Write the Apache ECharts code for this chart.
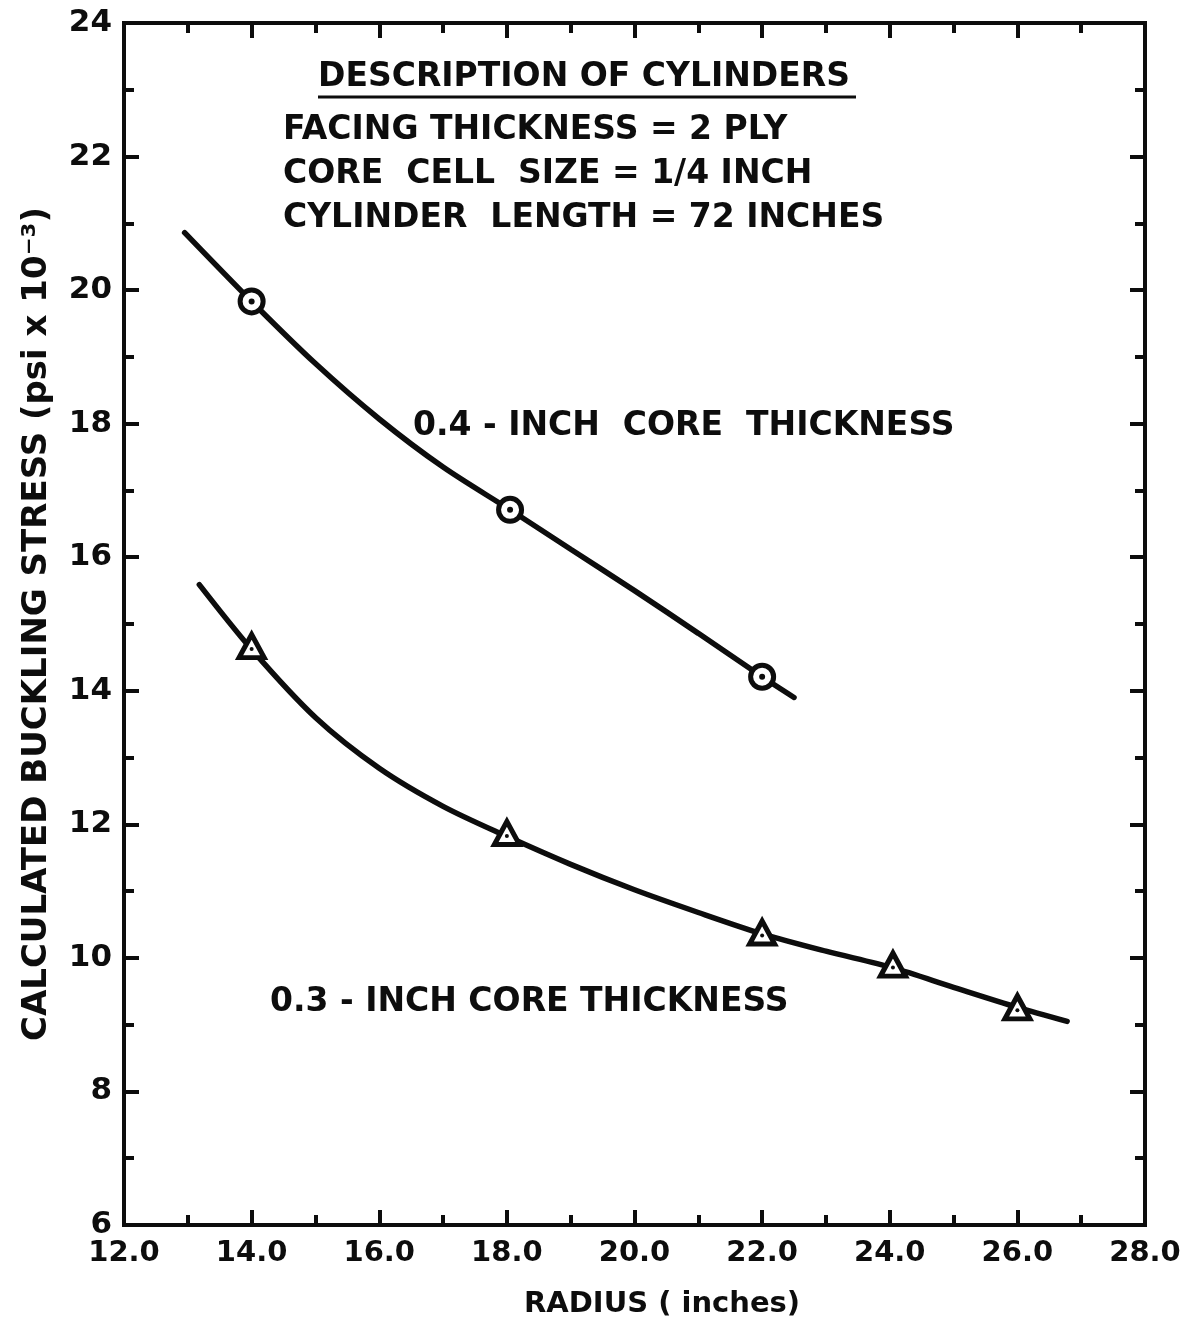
<!DOCTYPE html>
<html>
<head>
<meta charset="utf-8">
<title>Calculated buckling stress vs radius</title>
<script src="https://cdn.jsdelivr.net/npm/echarts@6/dist/echarts.min.js"></script>
<style>
  html, body { margin: 0; padding: 0; background: #fff; }
  #chart { width: 1191px; height: 1322px; }
</style>
</head>
<body>
<div id="chart"></div>
<script>
// Tick labels
const radiusTicks = ['12.0', '14.0', '16.0', '18.0', '20.0', '22.0', '24.0', '26.0', '28.0'];
const stressTicks = ['6', '8', '10', '12', '14', '16', '18', '20', '22', '24'];

// 0.4-inch core: calculated points (radius, stress) and faired curve
const core04Points = [[14.0, 19.83], [18.05, 16.71], [22.0, 14.21]];
const core04Curve = [
  [12.95, 20.86], [14.0, 19.83], [15.0, 18.9], [16.0, 18.07], [17.0, 17.35],
  [18.05, 16.71], [19.0, 16.12], [20.0, 15.5], [21.0, 14.86], [22.0, 14.21], [22.5, 13.9]
];

// 0.3-inch core: calculated points and faired curve
const core03Points = [[14.0, 14.67], [18.0, 11.87], [22.0, 10.38], [24.05, 9.9], [26.0, 9.26]];
const core03Curve = [
  [13.18, 15.59], [14.0, 14.62], [15.0, 13.6], [16.0, 12.84], [17.0, 12.27],
  [18.0, 11.82], [19.0, 11.4], [20.0, 11.02], [21.0, 10.68], [22.0, 10.36],
  [23.0, 10.1], [24.05, 9.85], [25.0, 9.56], [26.0, 9.26], [26.78, 9.05]
];

const descriptionLines = [
  'FACING THICKNESS = 2 PLY',
  'CORE  CELL  SIZE = 1/4 INCH',
  'CYLINDER  LENGTH = 72 INCHES'
];

const FONT = '"DejaVu Sans", Arial, sans-serif';
const INK = '#0d0d0d';

function makeX(position, labels) {
  return {
    type: 'value', position: position, min: 12, max: 28, interval: 2,
    axisLine: { show: false },
    axisTick: { show: true, inside: true, length: 15, lineStyle: { color: INK, width: 4 } },
    minorTick: { show: true, splitNumber: 2, length: 10, lineStyle: { color: INK, width: 4 } },
    splitLine: { show: false },
    axisLabel: labels ? {
      show: true, margin: 14, color: INK, fontFamily: FONT, fontWeight: 'bold', fontSize: 29,
      formatter: v => radiusTicks[Math.round((v - 12) / 2)]
    } : { show: false }
  };
}
function makeY(position, labels) {
  return {
    type: 'value', position: position, min: 6, max: 24, interval: 2,
    axisLine: { show: false },
    axisTick: { show: true, inside: true, length: 15, lineStyle: { color: INK, width: 4 } },
    minorTick: { show: true, splitNumber: 2, length: 10, lineStyle: { color: INK, width: 4 } },
    splitLine: { show: false },
    axisLabel: labels ? {
      show: true, margin: 12, color: INK, fontFamily: FONT, fontWeight: 'bold', fontSize: 31,
      formatter: v => stressTicks[Math.round((v - 6) / 2)]
    } : { show: false },
    name: labels ? 'CALCULATED BUCKLING STRESS (psi x 10\u207B\u00B3)' : '',
    nameLocation: 'middle', nameGap: 70, nameRotate: 90,
    nameTextStyle: { color: INK, fontFamily: FONT, fontWeight: 'bold', fontSize: 34 }
  };
}

const chart = echarts.init(document.getElementById('chart'), null, { renderer: 'canvas' });

const curveStyle = { color: INK, width: 5.5, cap: 'round' };

const option = {
  animation: false,
  backgroundColor: '#fff',
  grid: { left: 124, right: 46, top: 23, bottom: 97, show: true, borderColor: INK, borderWidth: 4, backgroundColor: 'transparent' },
  xAxis: [makeX('bottom', true), makeX('top', false)],
  yAxis: [makeY('left', true), makeY('right', false)],
  series: [
    { type: 'line', data: core04Curve, smooth: 0.3, symbol: 'none', z: 2,
      lineStyle: curveStyle },
    { type: 'line', data: core03Curve, smooth: 0.3, symbol: 'none', z: 2,
      lineStyle: curveStyle },
    { type: 'scatter', data: core04Points, symbol: 'circle', symbolSize: 23, z: 3,
      itemStyle: { color: '#fff', borderColor: INK, borderWidth: 5, opacity: 1 } },
    { type: 'scatter', data: core04Points, symbol: 'circle', symbolSize: 6, z: 4,
      itemStyle: { color: INK, opacity: 1 } },
    { type: 'scatter', data: core03Points, symbol: 'triangle', symbolSize: [25, 23], z: 3,
      itemStyle: { color: '#fff', borderColor: INK, borderWidth: 5, opacity: 1 } },
    { type: 'scatter', data: core03Points, symbol: 'circle', symbolSize: 4, symbolOffset: [0, 3], z: 4,
      itemStyle: { color: INK, opacity: 1 } }
  ],
  graphic: [
    { type: 'text', left: 318, top: 61, z: 10,
      style: { text: 'DESCRIPTION OF CYLINDERS', fill: INK, font: 'bold 33px ' + FONT } },
    { type: 'line', z: 10, shape: { x1: 318, y1: 97, x2: 856, y2: 97 },
      style: { stroke: INK, lineWidth: 3 } },
    { type: 'text', left: 283, top: 114, z: 10,
      style: { text: descriptionLines[0], fill: INK, font: 'bold 33px ' + FONT } },
    { type: 'text', left: 283, top: 158, z: 10,
      style: { text: descriptionLines[1], fill: INK, font: 'bold 33px ' + FONT } },
    { type: 'text', left: 283, top: 202, z: 10,
      style: { text: descriptionLines[2], fill: INK, font: 'bold 33px ' + FONT } },
    { type: 'text', left: 413, top: 410, z: 10,
      style: { text: '0.4 - INCH  CORE  THICKNESS', fill: INK, font: 'bold 33px ' + FONT } },
    { type: 'text', left: 270, top: 986, z: 10,
      style: { text: '0.3 - INCH CORE THICKNESS', fill: INK, font: 'bold 33px ' + FONT } },
    { type: 'text', left: 524, top: 1290, z: 10,
      style: { text: 'RADIUS ( inches)', fill: INK, font: 'bold 29px ' + FONT } }
  ]
};

chart.setOption(option);
</script>
</body>
</html>
